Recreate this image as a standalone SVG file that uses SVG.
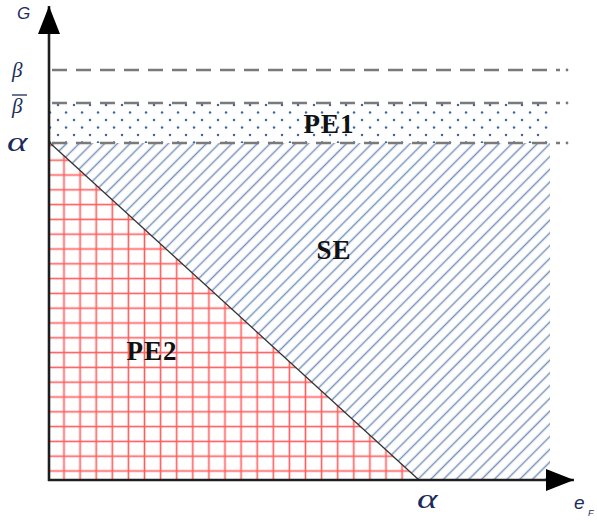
<svg xmlns="http://www.w3.org/2000/svg" width="597" height="522" viewBox="0 0 597 522">
<style>
.ax{stroke:#1e1e1e;stroke-width:2.6;fill:none}
.dash{stroke:#7a7a7a;stroke-width:2.6;fill:none;stroke-dasharray:15 9}
.lbl{font-family:"Liberation Serif",serif;font-weight:bold;font-size:27px;fill:#111;letter-spacing:1px}
.ital{font-family:"Liberation Serif",serif;font-style:italic;fill:#1c2b5e}
.sans{font-family:"Liberation Sans",sans-serif;font-style:italic;fill:#1c2b5e}
</style>
<defs>
<pattern id="dots" patternUnits="userSpaceOnUse" x="54" y="101" width="16" height="15">
<circle cx="4" cy="4" r="1.25" fill="#3f66a0"/>
<circle cx="12" cy="11.5" r="1.25" fill="#3f66a0"/>
</pattern>
<pattern id="hatch" patternUnits="userSpaceOnUse" width="9" height="9" patternTransform="rotate(45)">
<line x1="4.5" y1="0" x2="4.5" y2="9" stroke="#7893bb" stroke-width="1.5"/>
</pattern>
<pattern id="grid" patternUnits="userSpaceOnUse" x="55.95" y="463.6" width="16.1" height="14.8">
<line x1="8.05" y1="0" x2="8.05" y2="14.8" stroke="#ff5c5c" stroke-width="1.6"/>
<line x1="0" y1="7.4" x2="16.1" y2="7.4" stroke="#ff5c5c" stroke-width="1.6"/>
</pattern>
<marker id="arr" markerUnits="userSpaceOnUse" markerWidth="30" markerHeight="24" refX="28" refY="11" orient="auto">
<path d="M0,0 L28,11 L0,22 Z" fill="#000"/>
</marker>
</defs>
<g id="PE1">
<rect x="50" y="103" width="500" height="40" fill="url(#dots)"/>
<text class="lbl" x="329" y="133" text-anchor="middle">PE1</text>
</g>
<g id="SE">
<polygon points="50,143 550,143 550,480 419,480" fill="url(#hatch)"/>
<text class="lbl" x="334" y="259" text-anchor="middle">SE</text>
</g>
<g id="PE2">
<polygon points="50,143 419,480 50,480" fill="url(#grid)"/>
<text class="lbl" x="152" y="360" text-anchor="middle">PE2</text>
</g>
<g id="connectors">
<line x1="50" y1="143" x2="419" y2="480" stroke="#333" stroke-width="1.3"/>
<line class="dash" x1="52" y1="70" x2="560" y2="70"/>
<line class="dash" x1="52" y1="103" x2="560" y2="103"/>
<line class="dash" x1="52" y1="143" x2="560" y2="143"/>
<circle cx="567" cy="70" r="1.4" fill="#7a7a7a"/>
<circle cx="567" cy="103" r="1.4" fill="#7a7a7a"/>
<circle cx="567" cy="143" r="1.4" fill="#7a7a7a"/>
<line class="ax" x1="49" y1="481" x2="49" y2="6" marker-end="url(#arr)"/>
<line class="ax" x1="48" y1="480" x2="574" y2="480" marker-end="url(#arr)"/>
</g>
<g id="labels">
<text class="sans" x="17" y="19" font-size="17">G</text>
<text class="ital" x="12" y="77" font-size="21">β</text>
<line x1="12" y1="95" x2="27" y2="95" stroke="#1c2b5e" stroke-width="1.3"/>
<text class="ital" x="12" y="113" font-size="21">β</text>
<text class="ital" transform="translate(7,151) scale(1.45,1)" font-size="27">α</text>
<text class="ital" transform="translate(417,508) scale(1.45,1)" font-size="27">α</text>
<text class="sans" x="574" y="509" font-size="19">e</text>
<text class="sans" x="588" y="516" font-size="9">F</text>
</g>
</svg>
